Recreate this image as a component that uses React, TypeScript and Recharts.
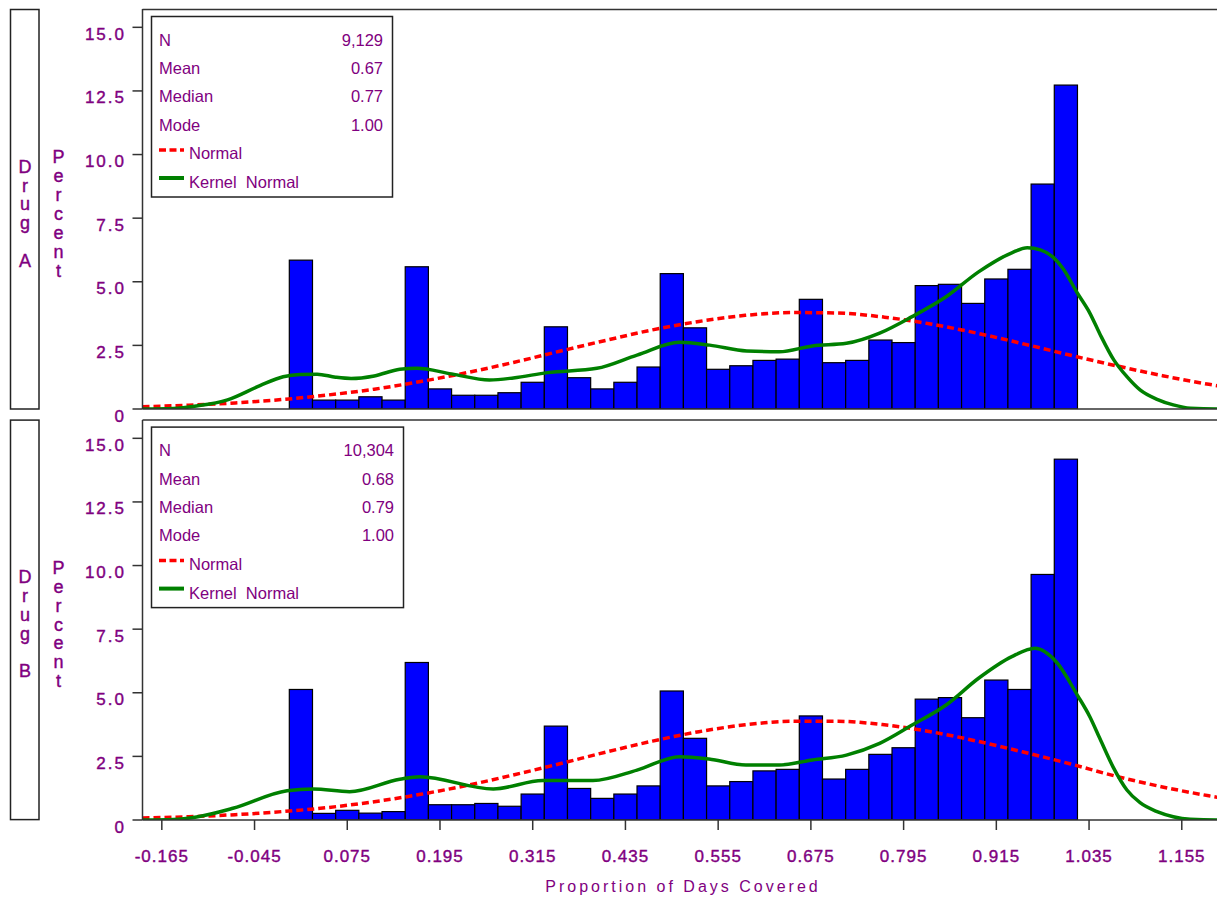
import React from 'react';
import { ComposedChart, Bar, Line, XAxis, YAxis } from 'recharts';

// histogram bins (midpoints, width 0.03)
const binMids = [
  0.015, 0.045, 0.075, 0.105, 0.135, 0.165, 0.195, 0.225, 0.255, 0.285, 0.315, 0.345,
  0.375, 0.405, 0.435, 0.465, 0.495, 0.525, 0.555, 0.585, 0.615, 0.645, 0.675, 0.705,
  0.735, 0.765, 0.795, 0.825, 0.855, 0.885, 0.915, 0.945, 0.975, 1.005,
];

const pctA = [
  5.85, 0.35, 0.35, 0.48, 0.35, 5.59, 0.79, 0.54, 0.54, 0.64, 1.05, 3.23, 1.23, 0.79, 1.05, 1.65, 5.32,
  3.19, 1.56, 1.7, 1.91, 1.96, 4.31, 1.82, 1.91, 2.71, 2.61, 4.85, 4.9, 4.15, 5.11, 5.49, 8.84, 12.73,
];

const pctB = [
  5.13, 0.26, 0.38, 0.27, 0.33, 6.19, 0.6, 0.6, 0.65, 0.54, 1.02, 3.69, 1.24, 0.85, 1.02, 1.34, 5.07,
  3.21, 1.34, 1.51, 1.93, 1.99, 4.09, 1.61, 1.99, 2.58, 2.84, 4.75, 4.81, 4.02, 5.5, 5.13, 9.65, 14.18,
];

// fitted normal curves
const normX = [
  -0.19, -0.13, -0.07, -0.01, 0.05, 0.11, 0.17, 0.23, 0.29, 0.35, 0.41, 0.47, 0.53,
  0.59, 0.65, 0.71, 0.77, 0.83, 0.89, 0.95, 1.01, 1.07, 1.13, 1.19, 1.23,
];
const normA = [
  0.09, 0.15, 0.24, 0.37, 0.55, 0.78, 1.08, 1.43, 1.83, 2.27, 2.7, 3.11, 3.44,
  3.68, 3.79, 3.77, 3.61, 3.34, 2.98, 2.56, 2.12, 1.7, 1.31, 0.97, 0.78,
];
const normB = [
  0.08, 0.13, 0.21, 0.33, 0.49, 0.72, 1.01, 1.36, 1.77, 2.21, 2.67, 3.1, 3.47,
  3.74, 3.88, 3.88, 3.74, 3.47, 3.1, 2.67, 2.21, 1.72, 1.3, 0.95, 0.74,
];

// kernel density curves
const kernXA = [
  -0.19, -0.15, -0.12, -0.08, -0.038, -0.008, 0.014, 0.036, 0.06, 0.08, 0.11, 0.143, 0.165, 0.21,
  0.259, 0.29, 0.334, 0.398, 0.45, 0.505, 0.544, 0.592, 0.634, 0.677, 0.721, 0.764, 0.806, 0.85,
  0.892, 0.935, 0.955, 0.972, 0.988, 1.001, 1.02, 1.036, 1.049, 1.067, 1.084, 1.101, 1.123, 1.144,
  1.166, 1.2, 1.23,
];
const kernA = [
  0, 0.02, 0.12, 0.36, 0.92, 1.27, 1.36, 1.37, 1.25, 1.2, 1.3, 1.56, 1.6, 1.38,
  1.14, 1.22, 1.43, 1.6, 2.12, 2.62, 2.51, 2.28, 2.25, 2.48, 2.58, 2.98, 3.63, 4.41,
  5.39, 6.14, 6.34, 6.25, 5.98, 5.53, 4.55, 3.77, 2.95, 1.93, 1.27, 0.75, 0.38, 0.16,
  0.03, 0, 0,
];
const kernXB = [
  -0.19, -0.15, -0.12, -0.073, -0.003, 0.031, 0.078, 0.143, 0.169, 0.264, 0.328, 0.393, 0.45,
  0.505, 0.543, 0.591, 0.634, 0.677, 0.721, 0.764, 0.806, 0.85, 0.892, 0.935, 0.965, 0.993,
  1.02, 1.036, 1.049, 1.066, 1.084, 1.101, 1.123, 1.144, 1.166, 1.2, 1.23,
];
const kernB = [
  0, 0.02, 0.12, 0.46, 1.15, 1.22, 1.11, 1.6, 1.7, 1.22, 1.55, 1.55, 1.96,
  2.49, 2.4, 2.16, 2.16, 2.36, 2.55, 3.01, 3.73, 4.52, 5.57, 6.42, 6.75, 6.2,
  4.9, 4.06, 3.2, 2.09, 1.18, 0.68, 0.33, 0.13, 0.03, 0, 0,
];

const xTicks = [-0.165, -0.045, 0.075, 0.195, 0.315, 0.435, 0.555, 0.675, 0.795, 0.915, 1.035, 1.155];
const yTicks = [0, 2.5, 5, 7.5, 10, 12.5, 15];

const statsA = [['N', '9,129'], ['Mean', '0.67'], ['Median', '0.77'], ['Mode', '1.00']];
const statsB = [['N', '10,304'], ['Mean', '0.68'], ['Median', '0.79'], ['Mode', '1.00']];

const PURPLE = '#800080';
const FONT = '"Liberation Sans", Arial, sans-serif';
const X_DOMAIN: [number, number] = [-0.19, 1.23];
const Y_DOMAIN: [number, number] = [0, 15.72];
const PX_PER_UNIT = 772.7;
const BIN_W = 0.03;
const AXIS_W = 142.5;
const CHART_W = 1240;

const YTick = (props: any) => {
  const { x, y, payload } = props;
  const v = payload.value as number;
  return (
    <text x={x} y={y + 12.5} textAnchor="end" fill={PURPLE} fontSize={17} fontFamily={FONT}
      letterSpacing={2} stroke={PURPLE} strokeWidth={0.4}>
      {v === 0 ? '0' : v.toFixed(1)}
    </text>
  );
};

const XTick = (props: any) => {
  const { x, y, payload } = props;
  return (
    <text x={x} y={y + 30} textAnchor="middle" fill={PURPLE} fontSize={17} fontFamily={FONT}
      letterSpacing={1} stroke={PURPLE} strokeWidth={0.4}>
      {(payload.value as number).toFixed(3)}
    </text>
  );
};

// full-width histogram bar centred on the bin midpoint
const HistBar = (props: any) => {
  const { x, y, width, height } = props;
  const w = BIN_W * PX_PER_UNIT;
  const cx = x + width / 2;
  if (!height || height <= 0) return null;
  return <rect x={cx - w / 2} y={y} width={w} height={height} fill="#0000ff" stroke="#000" strokeWidth={1.2} />;
};

function Panel({ pct, norm, kx, ky, bottom }: { pct: number[]; norm: number[]; kx: number[]; ky: number[]; bottom: boolean }) {
  const bars = binMids.map((x, i) => ({ x, pct: pct[i] }));
  const normal = normX.map((x, i) => ({ x, y: norm[i] }));
  const kernel = kx.map((x, i) => ({ x, y: ky[i] }));
  const xH = bottom ? 77 : 3;
  const extra = bottom ? 0 : 16;
  return (
    <ComposedChart width={CHART_W} height={409 + xH + extra} data={bars}
      margin={{ top: 9, right: CHART_W - AXIS_W - (X_DOMAIN[1] - X_DOMAIN[0]) * PX_PER_UNIT, left: 0, bottom: extra }}>
      <XAxis type="number" dataKey="x" domain={X_DOMAIN} allowDataOverflow ticks={xTicks} interval={0}
        height={xH} axisLine={{ stroke: '#333', strokeWidth: 1.5 }}
        tick={bottom ? <XTick /> : false} tickLine={bottom ? { stroke: '#333', strokeWidth: 1.5 } : false}
        tickSize={10} tickMargin={2} />
      <YAxis type="number" domain={Y_DOMAIN} allowDataOverflow ticks={yTicks} interval={0} width={AXIS_W}
        axisLine={{ stroke: '#333', strokeWidth: 1.5 }} tickLine={{ stroke: '#333', strokeWidth: 1.5 }}
        tick={<YTick />} tickSize={10} tickMargin={6.5} />
      <Bar dataKey="pct" fill="#0000ff" stroke="#000" shape={<HistBar />} isAnimationActive={false} />
      <Line data={normal} dataKey="y" type="monotone" stroke="#ff0000" strokeWidth={3.5}
        strokeDasharray="7 4" dot={false} activeDot={false} isAnimationActive={false} />
      <Line data={kernel} dataKey="y" type="monotone" stroke="#008000" strokeWidth={3.5}
        dot={false} activeDot={false} isAnimationActive={false} />
    </ComposedChart>
  );
}

function Decor({ dy, label, stats, boxW }: { dy: number; label: string; stats: string[][]; boxW: number }) {
  const rows = [45.5, 74, 102.3, 130.7, 159.3, 188];
  const valX = 151 + boxW - 9;
  return (
    <g transform={`translate(0, ${dy})`}>
      <rect x={10.5} y={9.5} width={28.5} height={399.5} fill="none" stroke="#222" strokeWidth={1.5} />
      <line x1={142.5} x2={1217} y1={9.5} y2={9.5} stroke="#333" strokeWidth={1.5} />
      {('Drug ' + label).split('').map((c, i) => (
        <text key={'d' + i} x={25} y={172.7 + 18.8 * i} textAnchor="middle" fontSize={18} fill={PURPLE}
          stroke={PURPLE} strokeWidth={0.4} fontFamily={FONT}>{c}</text>
      ))}
      {'Percent'.split('').map((c, i) => (
        <text key={'p' + i} x={58.5} y={163.3 + 18.9 * i} textAnchor="middle" fontSize={18} fill={PURPLE}
          stroke={PURPLE} strokeWidth={0.4} fontFamily={FONT}>{c}</text>
      ))}
      <rect x={151.5} y={16.5} width={boxW} height={180.5} fill="none" stroke="#222" strokeWidth={1.5} />
      {stats.map(([k, v], i) => (
        <g key={k}>
          <text x={159} y={rows[i]} fontSize={16.5} fill={PURPLE} fontFamily={FONT}>{k}</text>
          <text x={valX} y={rows[i]} fontSize={16.5} fill={PURPLE} fontFamily={FONT} textAnchor="end">{v}</text>
        </g>
      ))}
      <line x1={159} x2={184} y1={150} y2={150} stroke="#ff0000" strokeWidth={3.5} strokeDasharray="7 3.5" />
      <text x={189} y={rows[4]} fontSize={16.5} fill={PURPLE} fontFamily={FONT}>Normal</text>
      <line x1={159} x2={184} y1={178} y2={178} stroke="#008000" strokeWidth={4} />
      <text x={189} y={rows[5]} fontSize={16.5} fill={PURPLE} fontFamily={FONT} xmlSpace="preserve">Kernel  Normal</text>
    </g>
  );
}

export default function App() {
  return (
    <div style={{ position: 'absolute', left: 0, top: 0, width: 1217, height: 897, overflow: 'hidden', background: '#fff' }}>
      <div style={{ position: 'absolute', left: 0, top: 0 }}>
        <Panel pct={pctA} norm={normA} kx={kernXA} ky={kernA} bottom={false} />
      </div>
      <div style={{ position: 'absolute', left: 0, top: 411 }}>
        <Panel pct={pctB} norm={normB} kx={kernXB} ky={kernB} bottom={true} />
      </div>
      <svg width={1217} height={897} style={{ position: 'absolute', left: 0, top: 0, pointerEvents: 'none' }}>
        <Decor dy={0} label="A" stats={statsA} boxW={241} />
        <Decor dy={410.6} label="B" stats={statsB} boxW={252} />
        <text x={683} y={892} textAnchor="middle" fontSize={16} fill={PURPLE} fontFamily={FONT}
          letterSpacing={3}>Proportion of Days Covered</text>
      </svg>
    </div>
  );
}
